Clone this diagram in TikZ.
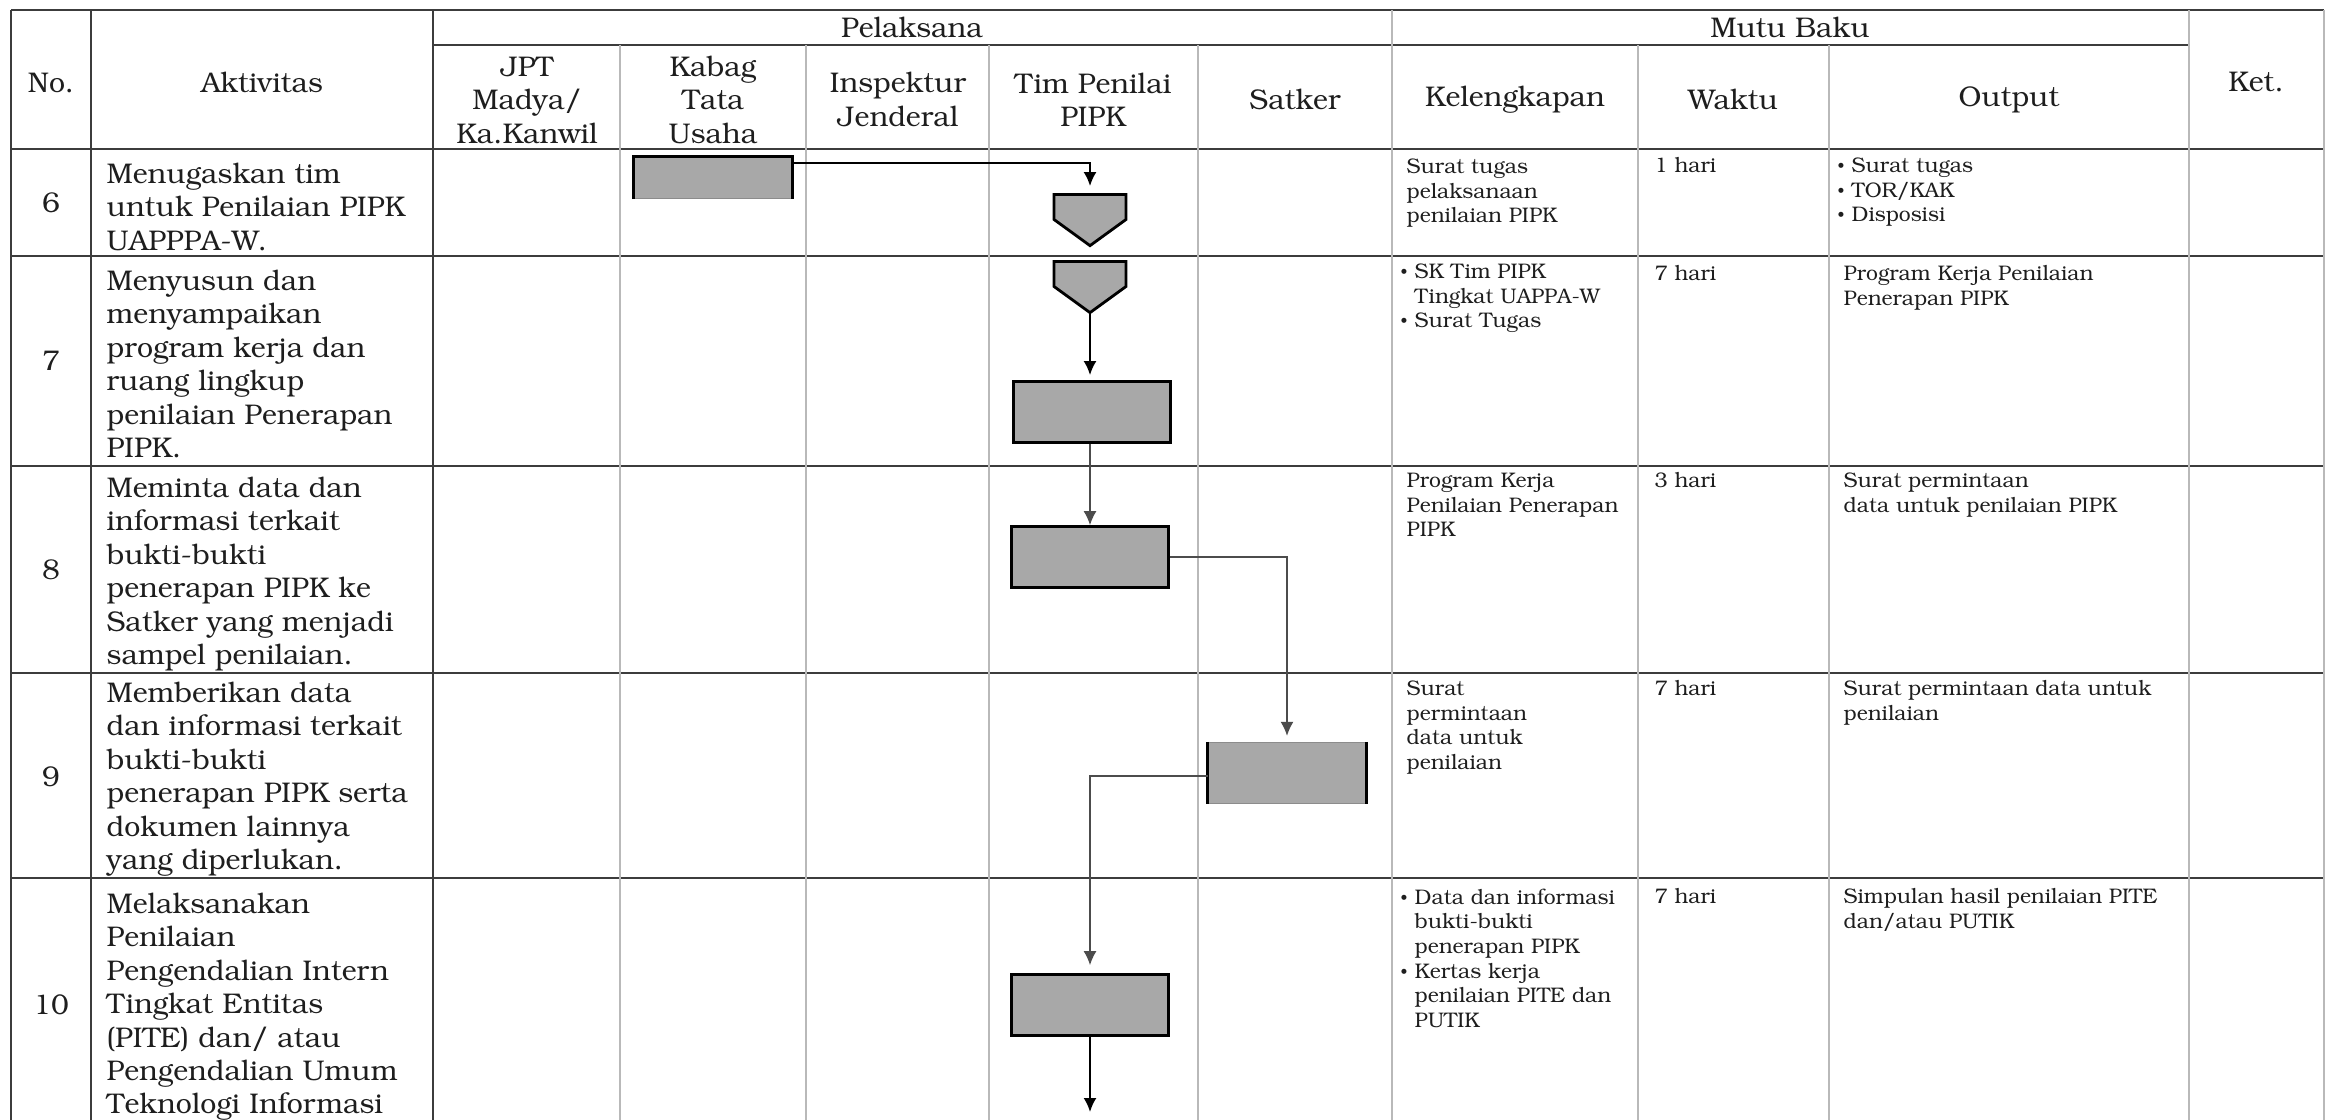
\documentclass[tikz,border=0pt]{standalone}
\usepackage[T1]{fontenc}
\usepackage{bookman}
\usetikzlibrary{arrows.meta, shapes.symbols}

\definecolor{boxgray}{RGB}{168,168,168}
\definecolor{rulegray}{RGB}{60,60,60}
\definecolor{linegray}{RGB}{185,185,185}
\definecolor{inkgray}{RGB}{30,30,30}
\newcommand{\bodyfont}{\fontsize{8.1}{9.5}\selectfont}
\newcommand{\notefont}{\fontsize{6}{7}\selectfont}
\newcommand{\itm}{\makebox[1.4mm][l]{\raisebox{0.1ex}{\scalebox{0.7}{\textbullet}}}}
\newcommand{\ind}{\hspace*{1.4mm}}

\begin{document}
\begin{tikzpicture}[x=0.1mm, y=-0.1mm,
        ruleline/.style={draw=rulegray, line width=0.6pt},
        gridline/.style={draw=linegray, line width=0.45pt},
        head/.style={font=\bodyfont, align=center, inner sep=0pt, text=inkgray},
        actcell/.style={font=\bodyfont, align=left, anchor=north west, inner sep=0pt, text=inkgray},
        mutu/.style={font=\notefont, align=left, anchor=north west, inner sep=0pt, text=inkgray},
        task/.style={rectangle, draw=black, line width=0.8pt, fill=boxgray, minimum width=15.7mm, minimum height=6.1mm, inner sep=0pt},
        bracketbox/.style={task, draw=black!45, line width=0.4pt},
        bracketedge/.style={draw=black, line width=0.9pt},
        offpage/.style={signal, signal to=south, signal from=nowhere, signal pointer angle=108, draw=black, line width=0.8pt, fill=boxgray, minimum width=7.2mm, minimum height=2.5mm, inner sep=0pt},
        flow/.style={draw=black, line width=0.6pt, -{Latex[length=1.4mm, width=1.3mm]}},
        flowlight/.style={draw=black!70, line width=0.4pt, -{Latex[length=1.4mm, width=1.3mm]}}
    ]
        \useasboundingbox (0,0) rectangle (2328,1120);
        \fill[white] (0,0) rectangle (2328,1120);
        \clip (0,0) rectangle (2328,1120);

        % Table lines
        \draw[ruleline] (11,10) -- (2324,10);
        \draw[ruleline] (433,45) -- (2189,45);
        \foreach \y in {149,256,466,673,878}
            \draw[ruleline] (11,\y) -- (2324,\y);
        \foreach \x in {11,91,433}
            \draw[ruleline] (\x,10) -- (\x,1120);
        \foreach \x in {620,806,989,1198,1638,1829}
            \draw[gridline] (\x,45) -- (\x,1120);
        \foreach \x in {1392,2189,2324}
            \draw[gridline] (\x,10) -- (\x,1120);

        % Header
        \node[head] (hno) at (51,83) {No.};
        \node[head] (hakt) at (262,83) {Aktivitas};
        \node[head] (hpel) at (912,28) {Pelaksana};
        \node[head] (hmutu) at (1790,28) {Mutu Baku};
        \node[head] (hket) at (2256,82) {Ket.};
        \node[head] (hjpt) at (527,100) {JPT\\Madya/\\Ka.Kanwil};
        \node[head] (hkabag) at (713,100) {Kabag\\Tata\\Usaha};
        \node[head] (hinsp) at (898,100) {Inspektur\\Jenderal};
        \node[head] (htim) at (1093,100) {Tim Penilai\\PIPK};
        \node[head] (hsat) at (1295,100) {Satker};
        \node[head] (hkel) at (1515,100) {Kelengkapan};
        \node[head] (hwkt) at (1733,100) {Waktu};
        \node[head] (hout) at (2009,100) {Output};

        % Numbers
        \node[head] (n6) at (51,203) {6};
        \node[head] (n7) at (51,361) {7};
        \node[head] (n8) at (51,570) {8};
        \node[head] (n9) at (51,777) {9};
        \node[head] (n10) at (51,1005) {10};

        % Activities
        \node[actcell] (a6) at (106,163) {Menugaskan tim\\untuk Penilaian PIPK\\UAPPPA-W.};
        \node[actcell] (a7) at (106,270) {Menyusun dan\\menyampaikan\\program kerja dan\\ruang lingkup\\penilaian Penerapan\\PIPK.};
        \node[actcell] (a8) at (106,477) {Meminta data dan\\informasi terkait\\bukti-bukti\\penerapan PIPK ke\\Satker yang menjadi\\sampel penilaian.};
        \node[actcell] (a9) at (106,682) {Memberikan data\\dan informasi terkait\\bukti-bukti\\penerapan PIPK serta\\dokumen lainnya\\yang diperlukan.};
        \node[actcell] (a10) at (106,893) {Melaksanakan\\Penilaian\\Pengendalian Intern\\Tingkat Entitas\\(PITE) dan/ atau\\Pengendalian Umum\\Teknologi Informasi};

        % Kelengkapan
        \node[mutu] (k6) at (1406,158) {Surat tugas\\pelaksanaan\\penilaian PIPK};
        \node[mutu] (k7) at (1400,263) {\itm SK Tim PIPK\\\ind Tingkat UAPPA-W\\\itm Surat Tugas};
        \node[mutu] (k8) at (1406,472) {Program Kerja\\Penilaian Penerapan\\PIPK};
        \node[mutu] (k9) at (1406,680) {Surat\\permintaan\\data untuk\\penilaian};
        \node[mutu] (k10) at (1400,888) {\itm Data dan informasi\\\ind bukti-bukti\\\ind penerapan PIPK\\\itm Kertas kerja\\\ind penilaian PITE dan\\\ind PUTIK};

        % Waktu
        \node[mutu] (w6) at (1654,157) {1 hari};
        \node[mutu] (w7) at (1654,265) {7 hari};
        \node[mutu] (w8) at (1654,472) {3 hari};
        \node[mutu] (w9) at (1654,680) {7 hari};
        \node[mutu] (w10) at (1654,888) {7 hari};

        % Output
        \node[mutu] (o6) at (1837,157) {\itm Surat tugas\\\itm TOR/KAK\\\itm Disposisi};
        \node[mutu] (o7) at (1843,265) {Program Kerja Penilaian\\Penerapan PIPK};
        \node[mutu] (o8) at (1843,472) {Surat permintaan\\data untuk penilaian PIPK};
        \node[mutu] (o9) at (1843,680) {Surat permintaan data untuk\\penilaian};
        \node[mutu] (o10) at (1843,888) {Simpulan hasil penilaian PITE\\dan/atau PUTIK};

        % Flow shapes
        \node[bracketbox, minimum height=4.1mm] (kab) at (713,178) {};
        \draw[bracketedge] (kab.south west) -- (kab.north west) -- (kab.north east) -- (kab.south east);
        \node[offpage] (op6) at (1090,207) {};
        \node[offpage] (op7) at (1090,274) {};
        \node[task] (box7) at (1092,412) {};
        \node[task] (box8) at (1090,557) {};
        \node[bracketbox] (sat) at (1287,773) {};
        \draw[bracketedge] (sat.north west) -- (sat.south west);
        \draw[bracketedge] (sat.north east) -- (sat.south east);
        \node[task] (box10) at (1090,1005) {};
        \coordinate (next) at (1090,1112);

        % Flow arrows
        \draw[flow] ([yshift=1.5mm]kab.east) -| ([yshift=0.7mm]op6.north);
        \draw[flow] (op7.south) -- ([yshift=0.5mm]op7.south |- box7.north);
        \draw[flowlight] (box8.north |- box7.south) -- (box8.north);
        \draw[flowlight] (box8.east) -| ([yshift=0.6mm]sat.north);
        \draw[flowlight] ([yshift=-0.3mm]sat.west) -| ([yshift=0.8mm]box10.north);
        \draw[flow] (box10.south) -- (next);
\end{tikzpicture}
\end{document}
